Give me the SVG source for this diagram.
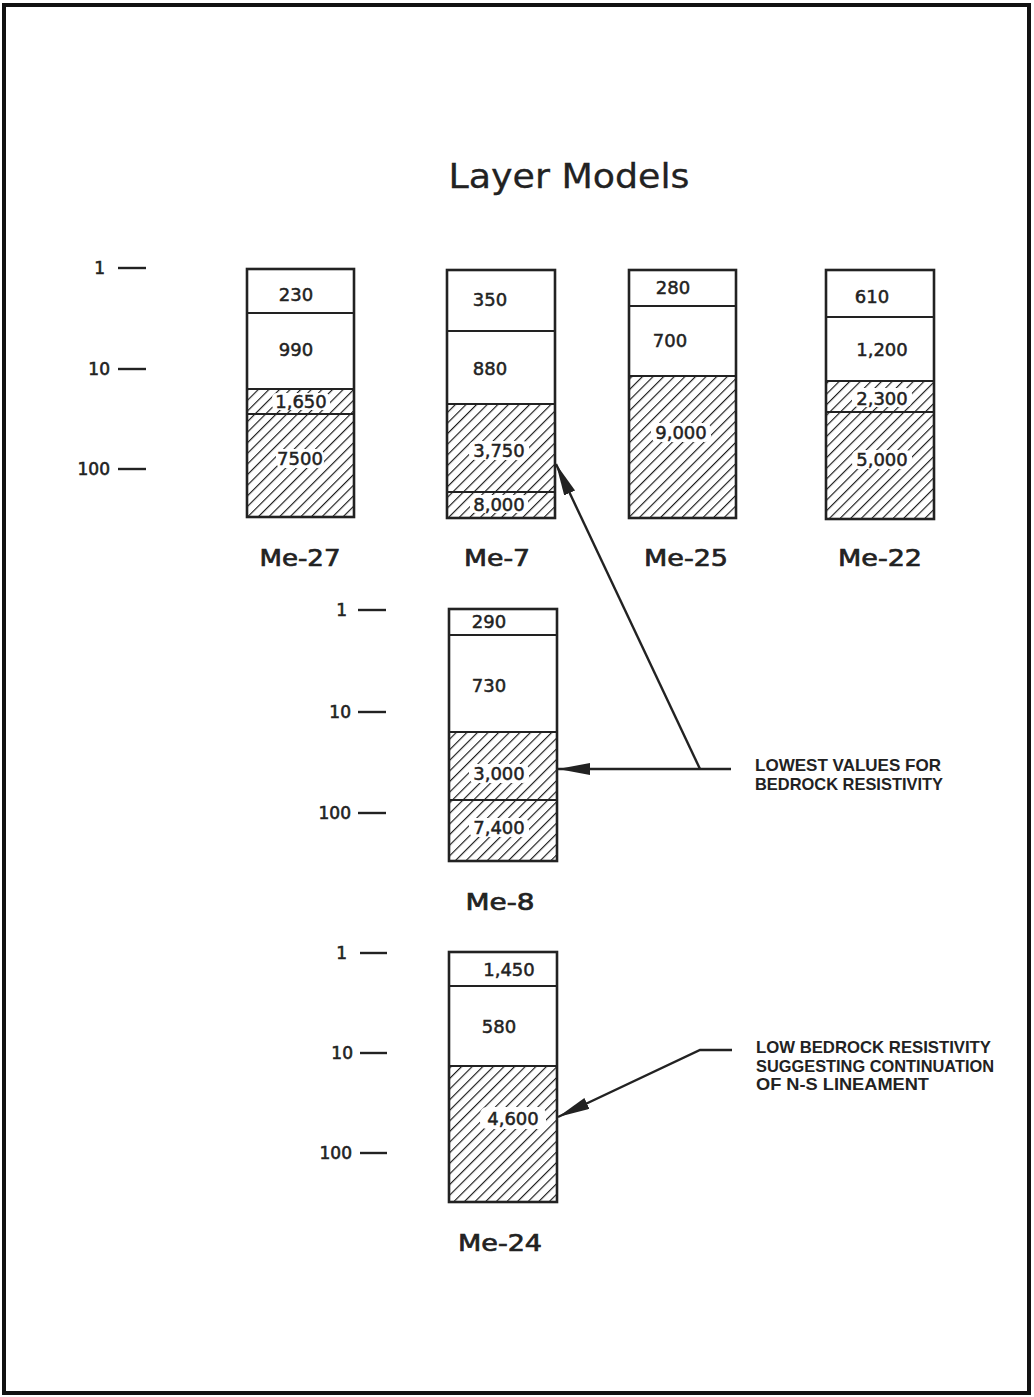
<svg xmlns="http://www.w3.org/2000/svg" width="1034" height="1397" viewBox="0 0 1034 1397">
<style>
.frame{fill:none;stroke:#111;stroke-width:4}
.box{fill:none;stroke:#222;stroke-width:2.6}
.div{stroke:#222;stroke-width:1.8}
.hatch{fill:url(#hatch)}
.halo{fill:#fff}
.val{font-family:"DejaVu Sans",sans-serif;font-size:18px;fill:#222;stroke:#222;stroke-width:0.5;text-anchor:middle}
.lab{font-family:"DejaVu Sans",sans-serif;font-size:23px;fill:#222;stroke:#222;stroke-width:0.7;text-anchor:middle}
.tick{font-family:"DejaVu Sans",sans-serif;font-size:17px;fill:#222;stroke:#222;stroke-width:0.6;text-anchor:end}
.tk{stroke:#222;stroke-width:2.4}
.title{font-family:"DejaVu Sans",sans-serif;font-size:34px;fill:#222;stroke:#222;stroke-width:0.3;text-anchor:middle}
.note{font-family:"Liberation Sans",Arial,sans-serif;font-size:17px;font-weight:bold;fill:#222}
.conn{fill:none;stroke:#222;stroke-width:2.4}
</style>
<defs>
<pattern id="hatch" patternUnits="userSpaceOnUse" width="7.5" height="7.5" patternTransform="rotate(45)">
<line x1="0" y1="0" x2="0" y2="7.5" stroke="#1a1a1a" stroke-width="2.3"/>
</pattern>
<marker id="ah" markerUnits="userSpaceOnUse" markerWidth="34" markerHeight="14" refX="32" refY="6" orient="auto">
<path d="M0,0 L32,6 L0,12 Z" fill="#222"/>
</marker>
</defs>
<rect class="frame" x="4" y="5" width="1025" height="1388"/>
<text class="title" x="569" y="188" textLength="241" lengthAdjust="spacingAndGlyphs">Layer Models</text>

<g id="scale-top">
<line class="tk" x1="118" y1="268" x2="146" y2="268"/>
<line class="tk" x1="118" y1="369" x2="146" y2="369"/>
<line class="tk" x1="118" y1="469" x2="146" y2="469"/>
<text class="tick" x="105" y="274">1</text>
<text class="tick" x="110" y="375">10</text>
<text class="tick" x="110" y="475">100</text>
</g>

<g id="me-27">
<rect class="hatch" x="247" y="389" width="107" height="128"/>
<rect class="halo" x="272" y="393" width="58" height="17" rx="5"/>
<rect class="halo" x="276" y="449" width="48" height="19" rx="6"/>
<rect class="box" x="247" y="269" width="107" height="248"/>
<line class="div" x1="247" y1="313" x2="354" y2="313"/>
<line class="div" x1="247" y1="389" x2="354" y2="389"/>
<line class="div" x1="247" y1="414" x2="354" y2="414"/>
<text class="val" x="296" y="301">230</text>
<text class="val" x="296" y="356">990</text>
<text class="val" x="301" y="408">1,650</text>
<text class="val" x="300" y="465">7500</text>
<text class="lab" x="300" y="566" textLength="81" lengthAdjust="spacingAndGlyphs">Me-27</text>
</g>

<g id="me-7">
<rect class="hatch" x="447" y="404" width="108" height="114"/>
<rect class="halo" x="469" y="441" width="60" height="19" rx="6"/>
<rect class="halo" x="470" y="495" width="58" height="18" rx="5"/>
<rect class="box" x="447" y="270" width="108" height="248"/>
<line class="div" x1="447" y1="331" x2="555" y2="331"/>
<line class="div" x1="447" y1="404" x2="555" y2="404"/>
<line class="div" x1="447" y1="492" x2="555" y2="492"/>
<text class="val" x="490" y="306">350</text>
<text class="val" x="490" y="375">880</text>
<text class="val" x="499" y="457">3,750</text>
<text class="val" x="499" y="511">8,000</text>
<text class="lab" x="497" y="566" textLength="66" lengthAdjust="spacingAndGlyphs">Me-7</text>
</g>

<g id="me-25">
<rect class="hatch" x="629" y="376" width="107" height="142"/>
<rect class="halo" x="651" y="423" width="60" height="19" rx="6"/>
<rect class="box" x="629" y="270" width="107" height="248"/>
<line class="div" x1="629" y1="306" x2="736" y2="306"/>
<line class="div" x1="629" y1="376" x2="736" y2="376"/>
<text class="val" x="673" y="294">280</text>
<text class="val" x="670" y="347">700</text>
<text class="val" x="681" y="439">9,000</text>
<text class="lab" x="686" y="566" textLength="84" lengthAdjust="spacingAndGlyphs">Me-25</text>
</g>

<g id="me-22">
<rect class="hatch" x="826" y="381" width="108" height="138"/>
<rect class="halo" x="852" y="388" width="60" height="19" rx="6"/>
<rect class="halo" x="852" y="450" width="60" height="19" rx="6"/>
<rect class="box" x="826" y="270" width="108" height="249"/>
<line class="div" x1="826" y1="317" x2="934" y2="317"/>
<line class="div" x1="826" y1="381" x2="934" y2="381"/>
<line class="div" x1="826" y1="412" x2="934" y2="412"/>
<text class="val" x="872" y="303">610</text>
<text class="val" x="882" y="356">1,200</text>
<text class="val" x="882" y="405">2,300</text>
<text class="val" x="882" y="466">5,000</text>
<text class="lab" x="880" y="566" textLength="84" lengthAdjust="spacingAndGlyphs">Me-22</text>
</g>

<g id="scale-me-8">
<line class="tk" x1="358" y1="610" x2="386" y2="610"/>
<line class="tk" x1="358" y1="712" x2="386" y2="712"/>
<line class="tk" x1="358" y1="813" x2="386" y2="813"/>
<text class="tick" x="347" y="616">1</text>
<text class="tick" x="351" y="718">10</text>
<text class="tick" x="351" y="819">100</text>
</g>

<g id="me-8">
<rect class="hatch" x="449" y="732" width="108" height="129"/>
<rect class="halo" x="469" y="764" width="60" height="19" rx="6"/>
<rect class="halo" x="469" y="818" width="60" height="19" rx="6"/>
<rect class="box" x="449" y="609" width="108" height="252"/>
<line class="div" x1="449" y1="635" x2="557" y2="635"/>
<line class="div" x1="449" y1="732" x2="557" y2="732"/>
<line class="div" x1="449" y1="800" x2="557" y2="800"/>
<text class="val" x="489" y="628">290</text>
<text class="val" x="489" y="692">730</text>
<text class="val" x="499" y="780">3,000</text>
<text class="val" x="499" y="834">7,400</text>
<text class="lab" x="500" y="910" textLength="69" lengthAdjust="spacingAndGlyphs">Me-8</text>
</g>

<g id="scale-me-24">
<line class="tk" x1="360" y1="953" x2="387" y2="953"/>
<line class="tk" x1="360" y1="1053" x2="387" y2="1053"/>
<line class="tk" x1="360" y1="1153" x2="387" y2="1153"/>
<text class="tick" x="347" y="959">1</text>
<text class="tick" x="353" y="1059">10</text>
<text class="tick" x="352" y="1159">100</text>
</g>

<g id="me-24">
<rect class="hatch" x="449" y="1066" width="108" height="136"/>
<rect class="halo" x="480" y="1107" width="66" height="22" rx="7"/>
<rect class="box" x="449" y="952" width="108" height="250"/>
<line class="div" x1="449" y1="986" x2="557" y2="986"/>
<line class="div" x1="449" y1="1066" x2="557" y2="1066"/>
<text class="val" x="509" y="976">1,450</text>
<text class="val" x="499" y="1033">580</text>
<text class="val" x="513" y="1125">4,600</text>
<text class="lab" x="500" y="1251" textLength="84" lengthAdjust="spacingAndGlyphs">Me-24</text>
</g>

<g id="note-lowest">
<text class="note" x="755" y="771" textLength="186" lengthAdjust="spacingAndGlyphs">LOWEST VALUES FOR</text>
<text class="note" x="755" y="790" textLength="188" lengthAdjust="spacingAndGlyphs">BEDROCK RESISTIVITY</text>
</g>

<g id="note-low">
<text class="note" x="756" y="1053" textLength="235" lengthAdjust="spacingAndGlyphs">LOW BEDROCK RESISTIVITY</text>
<text class="note" x="756" y="1072" textLength="238" lengthAdjust="spacingAndGlyphs">SUGGESTING CONTINUATION</text>
<text class="note" x="756" y="1090" textLength="173" lengthAdjust="spacingAndGlyphs">OF N-S LINEAMENT</text>
</g>

<g id="connectors">
<path class="conn" d="M731,769 H558" marker-end="url(#ah)"/>
<path class="conn" d="M700,769 L556,464" marker-end="url(#ah)"/>
<path class="conn" d="M732,1050 H700 L558,1117" marker-end="url(#ah)"/>
</g>
</svg>
